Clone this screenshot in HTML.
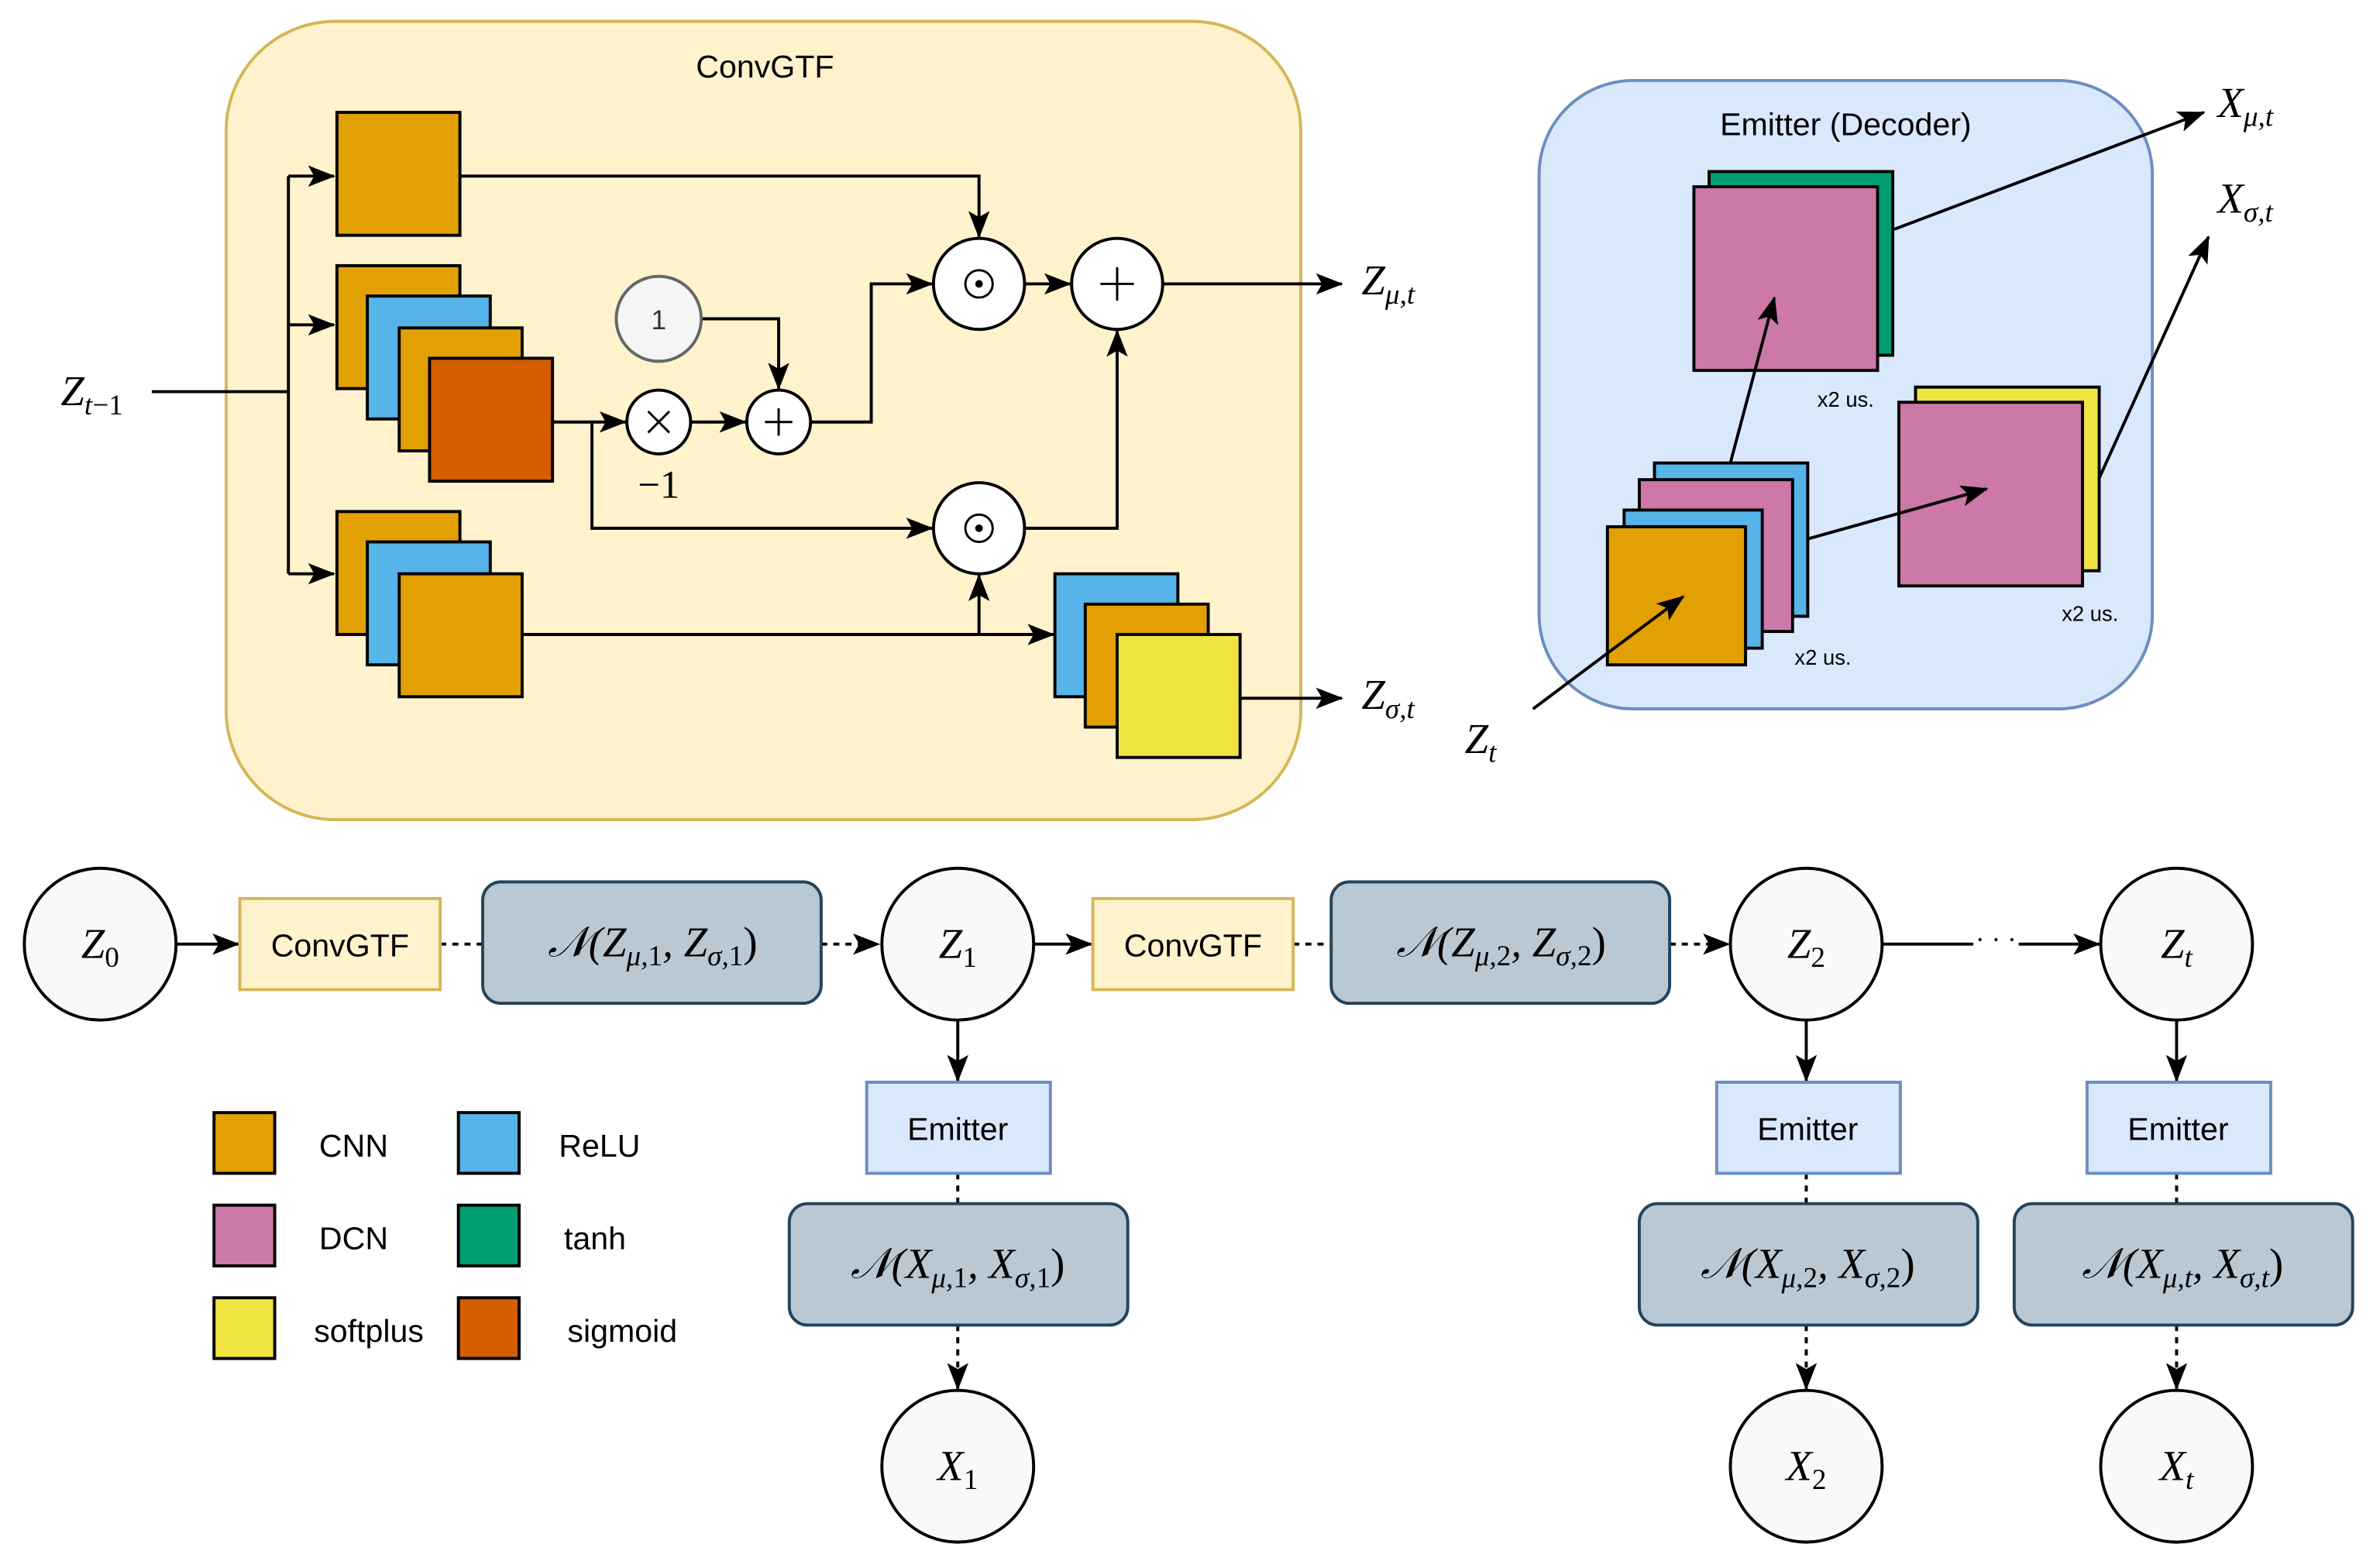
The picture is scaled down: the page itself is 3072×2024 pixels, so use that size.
<!DOCTYPE html>
<html><head><meta charset="utf-8"><style>
html,body{margin:0;padding:0;background:#fff;}
svg{display:block;}
.s{font-family:"Liberation Sans",sans-serif;}
.m{font-family:"Liberation Serif",serif;font-style:italic;}
.r{font-family:"Liberation Serif",serif;}
.u{font-style:normal;}
</style></head><body>
<svg width="3072" height="2024" viewBox="0 0 1568 1033" xmlns="http://www.w3.org/2000/svg">
<defs>
<marker id="a" markerWidth="18" markerHeight="14" refX="17" refY="7" orient="auto" markerUnits="userSpaceOnUse"><path d="M0,0 L18,7 L0,14 L4,7 Z" fill="#000"/></marker>
</defs>
<rect width="1568" height="1033" fill="#fff"/>
<!-- ConvGTF -->
<rect x="149" y="14" width="708" height="526" rx="72" fill="#fff2cc" stroke="#d6b656" stroke-width="2"/>
<text x="504" y="51" class="s" font-size="21" text-anchor="middle">ConvGTF</text>
<g stroke="#000" stroke-width="2" fill="none">
<path d="M100,258 H190"/>
<path d="M190,116 V378"/>
<path d="M190,116 H220" marker-end="url(#a)"/>
<path d="M190,214 H220" marker-end="url(#a)"/>
<path d="M190,378 H220" marker-end="url(#a)"/>
<path d="M303,116 H645 V156" marker-end="url(#a)"/>
<path d="M675,187 H705" marker-end="url(#a)"/>
<path d="M766,187 H884" marker-end="url(#a)"/>
<path d="M462,210 H513 V256" marker-end="url(#a)"/>
<path d="M364,278 H412" marker-end="url(#a)"/>
<path d="M455,278 H491" marker-end="url(#a)"/>
<path d="M534,278 H574 V187 H614" marker-end="url(#a)"/>
<path d="M390,278 V348 H614" marker-end="url(#a)"/>
<path d="M675,348 H736 V218" marker-end="url(#a)"/>
<path d="M344,418 H694" marker-end="url(#a)"/>
<path d="M645,418 V379" marker-end="url(#a)"/>
<path d="M817,460 H884" marker-end="url(#a)"/>
</g>
<g stroke="#000" stroke-width="2">
<rect x="222" y="74" width="81" height="81" fill="#e3a003"/>
<rect x="222" y="175" width="81" height="81" fill="#e3a003"/>
<rect x="242" y="195" width="81" height="81" fill="#56b4e9"/>
<rect x="263" y="216" width="81" height="81" fill="#e3a003"/>
<rect x="283" y="236" width="81" height="81" fill="#d55e00"/>
<rect x="222" y="337" width="81" height="81" fill="#e3a003"/>
<rect x="242" y="357" width="81" height="81" fill="#56b4e9"/>
<rect x="263" y="378" width="81" height="81" fill="#e3a003"/>
<rect x="695" y="378" width="81" height="81" fill="#56b4e9"/>
<rect x="715" y="398" width="81" height="81" fill="#e3a003"/>
<rect x="736" y="418" width="81" height="81" fill="#f0e442"/>
<circle cx="645" cy="187" r="30" fill="#fff"/>
<circle cx="736" cy="187" r="30" fill="#fff"/>
<circle cx="645" cy="348" r="30" fill="#fff"/>
<circle cx="434" cy="278" r="21" fill="#fff"/>
<circle cx="513" cy="278" r="21" fill="#fff"/>
</g>
<circle cx="434" cy="210" r="28" fill="#f5f5f5" stroke="#666" stroke-width="2"/>
<text x="434" y="217" class="s" font-size="18" text-anchor="middle" fill="#333">1</text>
<g stroke="#000" stroke-width="1.5" fill="none">
<circle cx="645" cy="187" r="9"/><circle cx="645" cy="348" r="9"/>
<path d="M725,187 H747 M736,176 V198"/>
<path d="M504,278 H522 M513,269 V287"/>
<path d="M427,271 L441,285 M441,271 L427,285"/>
</g>
<circle cx="645" cy="187" r="2.5"/><circle cx="645" cy="348" r="2.5"/>
<text x="434" y="328" class="r" font-size="26" text-anchor="middle">−1</text>
<text x="40" y="267" class="m" font-size="28">Z<tspan font-size="19" dy="6">t</tspan><tspan font-size="19" class="u">−1</tspan></text>
<text x="897" y="194" class="m" font-size="28">Z<tspan font-size="19" dy="6">μ,t</tspan></text>
<text x="897" y="467" class="m" font-size="28">Z<tspan font-size="19" dy="6">σ,t</tspan></text>
<!-- Emitter -->
<rect x="1014" y="53" width="404" height="414" rx="62" fill="#dae8fc" stroke="#6c8ebf" stroke-width="2"/>
<text x="1216" y="89" class="s" font-size="21" text-anchor="middle">Emitter (Decoder)</text>
<g stroke="#000" stroke-width="2">
<rect x="1126" y="113" width="121" height="121" fill="#009e73"/>
<rect x="1116" y="123" width="121" height="121" fill="#cc79a7"/>
<rect x="1262" y="255" width="121" height="121" fill="#f0e442"/>
<rect x="1251" y="265" width="121" height="121" fill="#cc79a7"/>
<rect x="1090" y="305" width="101" height="101" fill="#56b4e9"/>
<rect x="1080" y="316" width="101" height="100" fill="#cc79a7"/>
<rect x="1070" y="336" width="91" height="91" fill="#56b4e9"/>
<rect x="1059" y="347" width="91" height="91" fill="#e3a003"/>
</g>
<g class="s" font-size="14"><text x="1216" y="268" text-anchor="middle">x2 us.</text><text x="1201" y="438" text-anchor="middle">x2 us.</text><text x="1377" y="409" text-anchor="middle">x2 us.</text></g>
<g stroke="#000" stroke-width="2" fill="none">
<path d="M1010,467 L1109,393" marker-end="url(#a)"/>
<path d="M1140,305 L1169,196" marker-end="url(#a)"/>
<path d="M1191,355 L1309,322" marker-end="url(#a)"/>
<path d="M1248,151 L1452,74" marker-end="url(#a)"/>
<path d="M1383,315 L1455,156" marker-end="url(#a)"/>
</g>
<text x="965" y="496" class="m" font-size="28">Z<tspan font-size="19" dy="6">t</tspan></text>
<text x="1461" y="77" class="m" font-size="28">X<tspan font-size="19" dy="6">μ,t</tspan></text>
<text x="1461" y="140" class="m" font-size="28">X<tspan font-size="19" dy="6">σ,t</tspan></text>
<!-- bottom chain -->
<g stroke="#000" stroke-width="2" fill="none">
<path d="M116,622 H157" marker-end="url(#a)"/>
<path d="M290,622 H318" stroke-dasharray="4,4"/>
<path d="M541,622 H579" stroke-dasharray="4,4" marker-end="url(#a)"/>
<path d="M681,622 H719" marker-end="url(#a)"/>
<path d="M852,622 H877" stroke-dasharray="4,4"/>
<path d="M1100,622 H1139" stroke-dasharray="4,4" marker-end="url(#a)"/>
<path d="M1240,622 H1300"/>
<path d="M1330,622 H1383" marker-end="url(#a)"/>
<path d="M631,672 V712" marker-end="url(#a)"/>
<path d="M1190,672 V712" marker-end="url(#a)"/>
<path d="M1434,672 V712" marker-end="url(#a)"/>
<path d="M631,773 V793 M1190,773 V793 M1434,773 V793" stroke-dasharray="4,4"/>
<path d="M631,873 V915" stroke-dasharray="4,4" marker-end="url(#a)"/>
<path d="M1190,873 V915" stroke-dasharray="4,4" marker-end="url(#a)"/>
<path d="M1434,873 V915" stroke-dasharray="4,4" marker-end="url(#a)"/>
</g>
<text x="1315" y="625" class="r" font-size="18" text-anchor="middle">· · ·</text>
<g stroke="#000" stroke-width="2" fill="#f9f9f9">
<circle cx="66" cy="622" r="50"/><circle cx="631" cy="622" r="50"/><circle cx="1190" cy="622" r="50"/><circle cx="1434" cy="622" r="50"/>
<circle cx="631" cy="966" r="50"/><circle cx="1190" cy="966" r="50"/><circle cx="1434" cy="966" r="50"/>
</g>
<g class="m" font-size="28" text-anchor="middle">
<text x="66" y="631">Z<tspan font-size="19" dy="6" class="u">0</tspan></text>
<text x="631" y="631">Z<tspan font-size="19" dy="6" class="u">1</tspan></text>
<text x="1190" y="631">Z<tspan font-size="19" dy="6" class="u">2</tspan></text>
<text x="1434" y="631">Z<tspan font-size="19" dy="6">t</tspan></text>
<text x="631" y="975">X<tspan font-size="19" dy="6" class="u">1</tspan></text>
<text x="1190" y="975">X<tspan font-size="19" dy="6" class="u">2</tspan></text>
<text x="1434" y="975">X<tspan font-size="19" dy="6">t</tspan></text>
</g>
<g stroke="#d6b656" stroke-width="2" fill="#fff2cc">
<rect x="158" y="592" width="132" height="60"/><rect x="720" y="592" width="132" height="60"/>
</g>
<g class="s" font-size="21" text-anchor="middle"><text x="224" y="630">ConvGTF</text><text x="786" y="630">ConvGTF</text></g>
<g stroke="#6c8ebf" stroke-width="2" fill="#dae8fc">
<rect x="571" y="713" width="121" height="60"/><rect x="1131" y="713" width="121" height="60"/><rect x="1375" y="713" width="121" height="60"/>
</g>
<g class="s" font-size="21" text-anchor="middle"><text x="631" y="751">Emitter</text><text x="1191" y="751">Emitter</text><text x="1435" y="751">Emitter</text></g>
<g stroke="#23445d" stroke-width="2" fill="#bac8d3">
<rect x="318" y="581" width="223" height="80" rx="12"/><rect x="877" y="581" width="223" height="80" rx="12"/>
<rect x="520" y="793" width="223" height="80" rx="12"/><rect x="1080" y="793" width="223" height="80" rx="12"/><rect x="1327" y="793" width="223" height="80" rx="12"/>
</g>
<g class="m" font-size="28" text-anchor="middle">
<text x="430" y="630">𝒩(Z<tspan font-size="19" dy="6">μ,<tspan class="u">1</tspan></tspan><tspan dy="-6">, Z</tspan><tspan font-size="19" dy="6">σ,<tspan class="u">1</tspan></tspan><tspan dy="-6" class="u">)</tspan></text>
<text x="989" y="630">𝒩(Z<tspan font-size="19" dy="6">μ,<tspan class="u">2</tspan></tspan><tspan dy="-6">, Z</tspan><tspan font-size="19" dy="6">σ,<tspan class="u">2</tspan></tspan><tspan dy="-6" class="u">)</tspan></text>
<text x="631" y="842">𝒩(X<tspan font-size="19" dy="6">μ,<tspan class="u">1</tspan></tspan><tspan dy="-6">, X</tspan><tspan font-size="19" dy="6">σ,<tspan class="u">1</tspan></tspan><tspan dy="-6" class="u">)</tspan></text>
<text x="1191" y="842">𝒩(X<tspan font-size="19" dy="6">μ,<tspan class="u">2</tspan></tspan><tspan dy="-6">, X</tspan><tspan font-size="19" dy="6">σ,<tspan class="u">2</tspan></tspan><tspan dy="-6" class="u">)</tspan></text>
<text x="1438" y="842">𝒩(X<tspan font-size="19" dy="6">μ,t</tspan><tspan dy="-6">, X</tspan><tspan font-size="19" dy="6">σ,t</tspan><tspan dy="-6" class="u">)</tspan></text>
</g>
<!-- legend -->
<g stroke="#000" stroke-width="2">
<rect x="141" y="733" width="40" height="40" fill="#e3a003"/>
<rect x="141" y="794" width="40" height="40" fill="#cc79a7"/>
<rect x="141" y="855" width="40" height="40" fill="#f0e442"/>
<rect x="302" y="733" width="40" height="40" fill="#56b4e9"/>
<rect x="302" y="794" width="40" height="40" fill="#009e73"/>
<rect x="302" y="855" width="40" height="40" fill="#d55e00"/>
</g>
<g class="s" font-size="21" text-anchor="middle">
<text x="233" y="762">CNN</text><text x="233" y="823">DCN</text><text x="243" y="884">softplus</text>
<text x="395" y="762">ReLU</text><text x="392" y="823">tanh</text><text x="410" y="884">sigmoid</text>
</g>
</svg>
</body></html>
